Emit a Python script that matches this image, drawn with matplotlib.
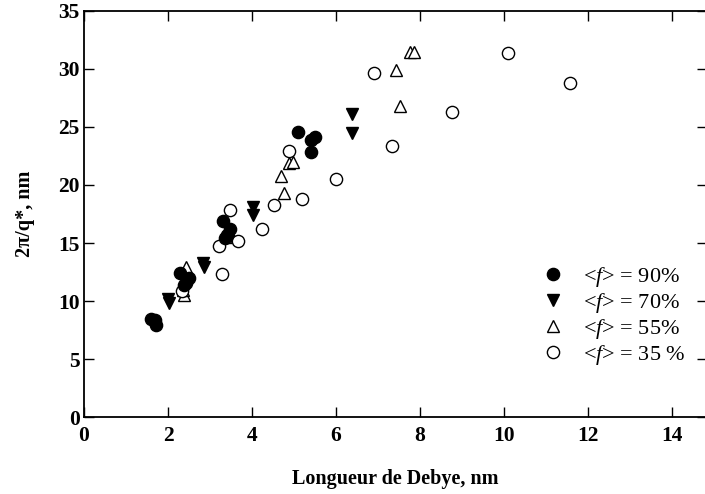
import matplotlib
matplotlib.use("Agg")
import matplotlib.pyplot as plt

plt.rcParams['font.family'] = ['Liberation Serif', 'DejaVu Serif']
plt.rcParams['mathtext.fontset'] = 'custom'
plt.rcParams['mathtext.rm'] = 'Liberation Serif'
plt.rcParams['mathtext.it'] = 'Liberation Serif:italic'

# <f> = 90 %
x90 = [1.60, 1.69, 1.72, 2.29, 2.43, 2.50, 2.38, 3.30, 3.48, 3.40, 3.35, 5.10, 5.50, 5.40, 5.40]
y90 = [8.50, 8.35, 7.95, 12.45, 11.60, 12.00, 11.40, 16.90, 16.20, 15.70, 15.40, 24.60, 24.10, 23.85, 22.85]
# <f> = 70 %
x70 = [2.00, 2.02, 2.83, 2.85, 4.02, 4.03, 6.37, 6.37]
y70 = [10.20, 9.80, 13.30, 12.90, 18.10, 17.40, 26.10, 24.50]
# <f> = 55 %
x55 = [2.43, 2.37, 2.35, 3.38, 3.45, 4.69, 4.76, 4.88, 4.97, 7.76, 7.86, 7.43, 7.52]
y55 = [12.90, 10.50, 11.00, 15.50, 16.00, 20.80, 19.30, 21.90, 22.00, 31.45, 31.45, 29.90, 26.80]
# <f> = 35 %
x35 = [2.33, 3.28, 3.21, 3.67, 3.48, 4.23, 4.52, 5.18, 4.89, 6.00, 6.90, 10.09, 11.56, 8.75, 7.33]
y35 = [10.86, 12.30, 14.76, 15.16, 17.82, 16.19, 18.31, 18.77, 22.92, 20.49, 29.63, 31.38, 28.80, 26.28, 23.33]

labels = [r'<$\mathit{f}$> = 90%', r'<$\mathit{f}$> = 70%', r'<$\mathit{f}$> = 55%', r'<$\mathit{f}$> = 35 %']
xticks = [0, 2, 4, 6, 8, 10, 12, 14]
yticks = [0, 5, 10, 15, 20, 25, 30, 35]

fig = plt.figure(figsize=(7.05, 4.94), dpi=100)
ax = fig.add_axes([84/705, (494-417.3)/494, (707-84)/705, (417.3-10.7)/494])

ms = 8.8
h55, = ax.plot(x55, y55, ls='none', marker='^', ms=ms, mfc='white', mec='black', mew=1.0, label=labels[2], zorder=2)
h35, = ax.plot(x35, y35, ls='none', marker='o', ms=ms, mfc='white', mec='black', mew=1.0, label=labels[3], zorder=3)
h70, = ax.plot(x70, y70, ls='none', marker='v', ms=ms, mfc='black', mec='black', mew=1.0, label=labels[1], zorder=4)
h90, = ax.plot(x90, y90, ls='none', marker='o', ms=ms, mfc='black', mec='black', mew=1.0, label=labels[0], zorder=5)

ax.set_xlim(0, (707-84)/42)
ax.set_ylim(0, 35)
ax.set_xticks(xticks)
ax.set_yticks(yticks)
ax.tick_params(direction='in', length=7, width=1.0, top=True, right=True, labelsize=15.5)
ax.tick_params(axis='x', pad=6)
ax.tick_params(axis='y', pad=3)
for lab in ax.get_xticklabels() + ax.get_yticklabels():
    lab.set_fontweight('bold')
for s in ax.spines.values():
    s.set_linewidth(1.3)

ax.set_xlabel('Longueur de Debye, nm', fontsize=14.5, fontweight='bold', labelpad=17)
ax.set_ylabel('2π/q*, nm', fontsize=14.5, fontweight='bold', labelpad=17)

leg = ax.legend(handles=[h90, h70, h55, h35], loc='upper left', bbox_to_anchor=(0.72, 0.396),
                frameon=False, fontsize=16, handletextpad=0.85, labelspacing=0.08,
                handlelength=1.0, borderaxespad=0)

fig.savefig('out.png', dpi=100)
